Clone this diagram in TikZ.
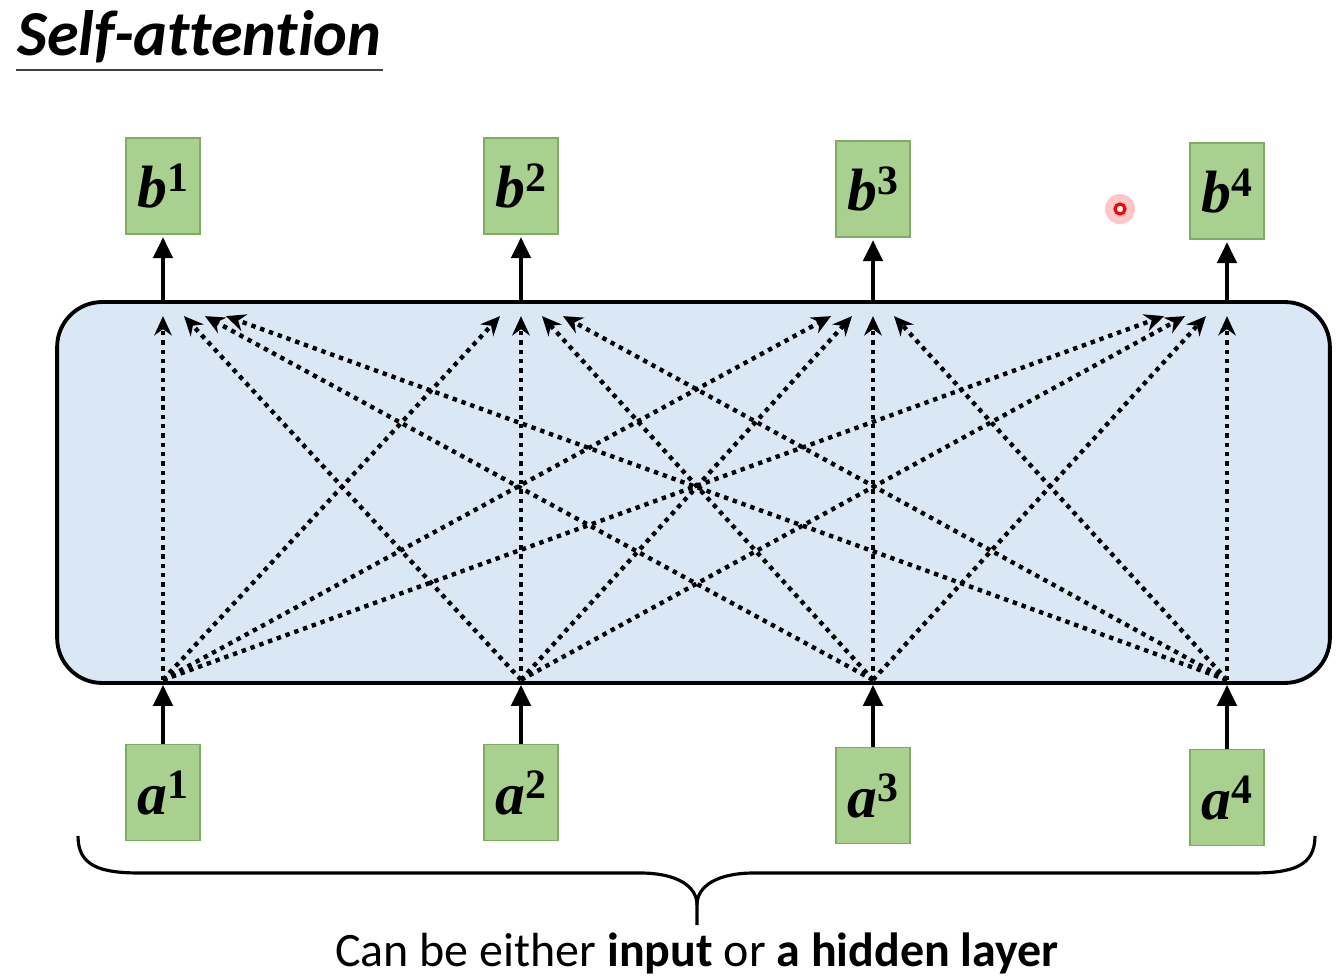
\documentclass[tikz,border=0pt]{standalone}
\usepackage{fontspec}
\setmainfont[Ligatures=CommonOff]{Carlito}
\newfontfamily\labelfont{Liberation Serif}
\usepackage{xcolor}
\usetikzlibrary{arrows.meta,positioning,calc}

\definecolor{cellgreen}{RGB}{169,208,142}
\definecolor{celledge}{RGB}{128,172,98}
\definecolor{layerblue}{RGB}{218,232,246}

\newcommand{\vecname}[2]{\textit{#1}\textsuperscript{\upshape #2}}

\begin{document}
\begin{tikzpicture}[x=0.02cm, y=-0.02cm,
    cell/.style={draw=celledge, fill=cellgreen, line width=0.6pt,
                 minimum width=1.48cm, minimum height=1.92cm, inner sep=0pt,
                 font=\labelfont\bfseries\fontsize{34}{40}\selectfont},
    layer/.style={draw, line width=2.2pt, fill=layerblue,
                  rounded corners=0.9cm, minimum width=25.46cm,
                  minimum height=7.62cm},
    arrow/.style={-{Triangle[length=12pt,width=11pt]}, line width=2.3pt},
    dotarrow/.style={-{Stealth[length=11pt,width=10pt]}, line width=2.5pt,
                     dash pattern=on 2.5pt off 2.8pt},
    node distance=10.2cm
]
\useasboundingbox (0,0) rectangle (1343,979);

% title
\node[anchor=base west, inner sep=0pt,
      font=\bfseries\itshape\fontsize{36.5}{44}\selectfont] (title) at (17,56) {Self-attention};
\draw[darkgray, line width=1.3pt] ($(title.base west)+(-1,14)$) -- ($(title.base east)+(1,14)$);

% self-attention layer
\node[layer] (layer) at (693.5,492.5) {};

% outputs and inputs
\node[cell] (b1) at (163,186) {\vecname{b}{1}};
\node[cell] (b2) at (521,186) {\vecname{b}{2}};
\node[cell] (b3) at (873,189) {\vecname{b}{3}};
\node[cell] (b4) at (1227,191) {\vecname{b}{4}};
\foreach \i in {1,...,4}
  \node[cell, below=of b\i] (a\i) {\vecname{a}{\i}};

% solid arrows
\foreach \i in {1,...,4} {
  \draw[arrow, shorten >=1.5pt] (b\i |- layer.north) -- (b\i.south);
  \draw[arrow] (a\i.north) -- (a\i |- layer.south);
  \coordinate (in\i) at ($(a\i |- layer.south)+(0,-5)$);
  \coordinate (out\i) at ($(b\i |- layer.north)+(0,16)$);
}

% every input attends to every output
\foreach \i in {1,...,4}
  \foreach \j in {1,...,4}
    \draw[dotarrow] (in\i) -- ($(out\j)+({(\i-\j)*21},0)$);

% pointer
\fill[red, opacity=0.22] (1120,209) circle (0.3cm);
\node[circle, draw=red, fill=white, line width=1.8pt, inner sep=0pt,
      minimum size=0.2cm] (pointer) at (1120,209) {};

% brace
\coordinate (brL) at (78,836);
\coordinate (brR) at (1315,836);
\coordinate (brM) at (697,925);
\draw[line width=1.8pt] (brL) .. controls (78,866) and (100,873) .. (140,873)
  -- (640,873) .. controls (675,873) and (697,885) .. (697,905) -- (brM);
\draw[line width=1.8pt] (brR) .. controls (1315,866) and (1293,873) .. (1253,873)
  -- (754,873) .. controls (719,873) and (697,885) .. (697,905);

\node[anchor=base, font=\fontsize{27.3}{32}\selectfont] (caption) at (697,966)
  {Can be either \textbf{input} or \textbf{a hidden layer}};
\end{tikzpicture}
\end{document}
